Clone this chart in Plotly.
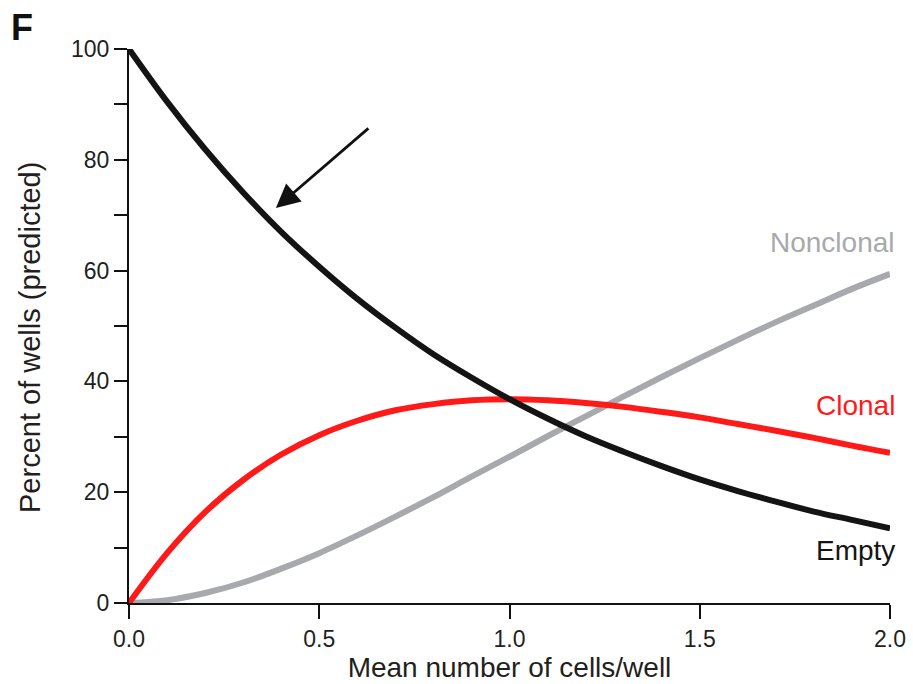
import plotly.graph_objects as go

mean_cells = [0.0, 0.1, 0.2, 0.3, 0.4, 0.5, 0.6, 0.7, 0.8, 0.9, 1.0,
              1.1, 1.2, 1.3, 1.4, 1.5, 1.6, 1.7, 1.8, 1.9, 2.0]
empty = [100, 90.5, 81.9, 74.1, 67.0, 60.7, 54.9, 49.7, 44.9, 40.7, 36.8,
         33.3, 30.1, 27.3, 24.7, 22.3, 20.2, 18.3, 16.5, 15.0, 13.5]
clonal = [0, 9.0, 16.4, 22.2, 26.8, 30.3, 32.9, 34.8, 35.9, 36.6, 36.8,
          36.6, 36.1, 35.4, 34.5, 33.5, 32.3, 31.1, 29.8, 28.4, 27.1]
nonclonal = [0, 0.5, 1.8, 3.7, 6.2, 9.0, 12.2, 15.6, 19.1, 22.8, 26.4,
             30.1, 33.7, 37.3, 40.8, 44.2, 47.5, 50.7, 53.7, 56.7, 59.4]

y_tickvals = [0, 10, 20, 30, 40, 50, 60, 70, 80, 90, 100]
y_ticktext = ["0", "", "20", "", "40", "", "60", "", "80", "", "100"]
x_tickvals = [0.0, 0.5, 1.0, 1.5, 2.0]
x_ticktext = ["0.0", "0.5", "1.0", "1.5", "2.0"]

GRAY = "#a7a9ac"
RED = "#ff1a1a"
BLACK = "#141414"
TXT = "#231f20"
FONT = "Liberation Sans, Arial, sans-serif"

fig = go.Figure()
for ys, col in [(nonclonal, GRAY), (clonal, RED), (empty, BLACK)]:
    fig.add_trace(go.Scatter(x=mean_cells, y=ys, mode="lines",
                             line=dict(color=col, width=6, shape="spline"),
                             cliponaxis=False, showlegend=False,
                             hoverinfo="skip"))

labels = [("Nonclonal", 65.0, GRAY), ("Clonal", 35.7, RED), ("Empty", 9.4, BLACK)]
for txt, yv, col in labels:
    fig.add_annotation(x=1.0092, xref="paper", y=yv, yref="y", text=txt,
                       showarrow=False, xanchor="right", yanchor="middle",
                       font=dict(family=FONT, size=28, color=col))

# arrow
fig.add_annotation(x=0.386, y=71.3, xref="x", yref="y",
                   ax=0.633, ay=85.9, axref="x", ayref="y",
                   text="", showarrow=True, arrowhead=2, arrowsize=1.7,
                   arrowwidth=2.8, arrowcolor="#111111")

# panel letter
fig.add_annotation(x=(22 - 129) / 761, y=1 + (49 - 27) / 554,
                   xref="paper", yref="paper", text="<b>F</b>",
                   xanchor="center", yanchor="middle",
                   showarrow=False, font=dict(family=FONT, size=36, color="#111"))

# y axis title
fig.add_annotation(x=(30 - 129) / 761, y=(603 - 338) / 554,
                   xref="paper", yref="paper", text="Percent of wells (predicted)",
                   textangle=-90, xanchor="center", yanchor="middle",
                   showarrow=False, font=dict(family=FONT, size=29, color=TXT))

fig.update_layout(
    width=913, height=684,
    margin=dict(l=129, r=23, t=49, b=81),
    plot_bgcolor="white", paper_bgcolor="white",
    font=dict(family=FONT, size=24, color=TXT),
)

fig.update_xaxes(range=[0, 2], showgrid=False, zeroline=False, automargin=False,
                 showline=True, linecolor="#111", linewidth=2,
                 ticks="outside", ticklen=14, tickwidth=2, tickcolor="#111",
                 tickvals=x_tickvals, ticktext=x_ticktext,
                 tickfont=dict(family=FONT, size=23, color=TXT),
                 title=dict(text="Mean number of cells/well",
                            font=dict(family=FONT, size=28, color=TXT),
                            standoff=3))
fig.update_yaxes(range=[0, 100], showgrid=False, zeroline=False, automargin=False,
                 showline=True, linecolor="#111", linewidth=2,
                 ticks="outside", ticklen=13, tickwidth=2, tickcolor="#111",
                 tickvals=y_tickvals, ticktext=y_ticktext,
                 tickfont=dict(family=FONT, size=23, color=TXT))

fig.write_html("out.html")
